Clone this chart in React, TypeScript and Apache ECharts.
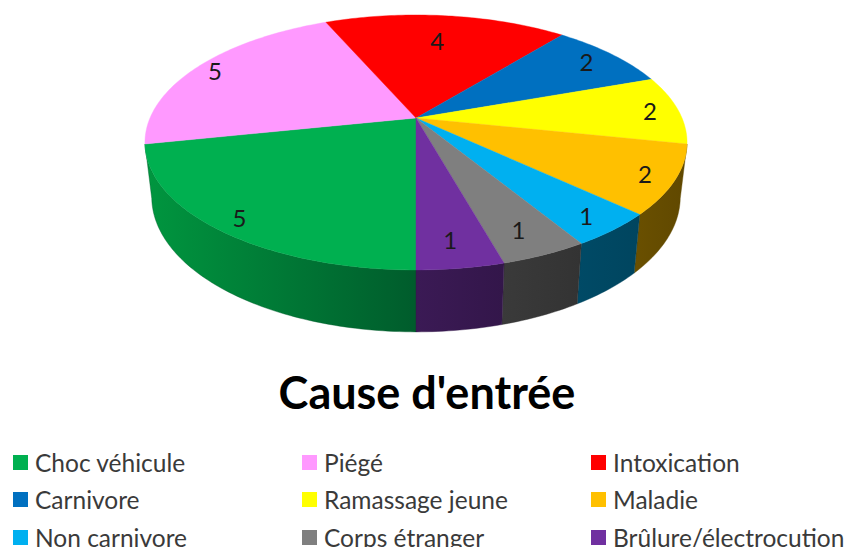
import React, { useEffect, useRef } from "react";
import * as echarts from "echarts";

const categories = ["Choc véhicule", "Piégé", "Intoxication", "Carnivore", "Ramassage jeune", "Maladie", "Non carnivore", "Corps étranger", "Brûlure/électrocution"];
const values = [5, 5, 4, 2, 2, 2, 1, 1, 1];
const topColors = ["#00B050", "#FF99FF", "#FF0000", "#0070C0", "#FFFF00", "#FFC000", "#00B0F0", "#7F7F7F", "#7030A0"];
const wallFrom = ["#00963F", "#993D99", "#990000", "#004373", "#999900", "#6A5000", "#004A66", "#3A3A3A", "#3B1A55"];
const wallTo = ["#005C2C", "#993D99", "#990000", "#004373", "#999900", "#604800", "#00455F", "#333333", "#33164A"];
const labelRadius = [0.9, 0.91, 0.73, 0.87, 0.9, 0.9, 0.89, 0.84, 0.84];
const legendLeft = [13, 302, 591];
const legendTop = [450, 487, 525];

const total = values.reduce((a, b) => a + b, 0);
const CX = 416, R = 266, K = 0.192;
const TOP_Y = 118, TOP_S = 122.8;
const BASE_Y = 171, BASE_S = 130, BASE_X = 0.975;
const FONT = "Lato, 'Open Sans', sans-serif";

// Perspective projection of a point of the disc; the angle runs clockwise from the front.
function project(angle: number, rho: number, y0: number, s: number, xs: number): number[] {
  const u = -Math.sin(angle) * rho;
  const v = -Math.cos(angle) * rho;
  const w = 1 + K * v;
  return [CX + (xs * R * u) / w, y0 - (s * v) / w];
}
const onTop = (a: number, rho = 1) => project(a, rho, TOP_Y, TOP_S, 1);
const onBase = (a: number) => project(a, 1, BASE_Y, BASE_S, BASE_X);

function arc(a0: number, a1: number, fn: (a: number) => number[]) {
  const n = Math.max(2, Math.ceil(((a1 - a0) * 180) / Math.PI));
  const pts: number[][] = [];
  for (let i = 0; i <= n; i++) pts.push(fn(a0 + ((a1 - a0) * i) / n));
  return pts;
}

function makeRender(index: number) {
  const before = values.slice(0, index).reduce((a, b) => a + b, 0);
  return (_params: any, api: any) => {
    const value = api.value(0);
    const a0 = (before / total) * 2 * Math.PI;
    const a1 = ((before + value) / total) * 2 * Math.PI;
    const topArc = arc(a0, a1, (a) => onTop(a));
    const baseArc = arc(a0, a1, onBase);
    const mid = (a0 + a1) / 2;
    const lp = onTop(mid, labelRadius[index]);
    const wallFill = {
      type: "linear", x: 0, y: 0, x2: 1, y2: 0,
      colorStops: [{ offset: 0, color: wallFrom[index] }, { offset: 1, color: wallTo[index] }],
    };
    const children: any[] = [
      {
        type: "polygon", z2: 2, silent: true,
        shape: { points: [[CX, TOP_Y], ...topArc] },
        style: { fill: topColors[index], stroke: topColors[index], lineWidth: 0.4 },
      },
      {
        type: "text", z2: 3, silent: true, x: lp[0] - 2, y: lp[1],
        style: { text: String(value), fill: "#1a1a1a", font: `24px ${FONT}`, align: "center", verticalAlign: "middle" },
      },
    ];
    // Only the slices on the front half of the disc show a side wall.
    if (Math.cos(mid) > 0) {
      children.unshift({
        type: "polygon", z2: 1, silent: true,
        shape: { points: [...topArc, ...baseArc.slice().reverse()] },
        style: { fill: wallFill, stroke: wallTo[index], lineWidth: 0.4 },
      });
    }
    return { type: "group", children };
  };
}

export default function App() {
  const ref = useRef<HTMLDivElement>(null);
  useEffect(() => {
    document.body.style.margin = "0";
    const chart = echarts.init(ref.current!, null, { renderer: "svg" });
    chart.setOption({
      animation: false,
      backgroundColor: "#ffffff",
      title: {
        text: "Cause d'entrée",
        left: 427, top: 364, textAlign: "center",
        textStyle: { fontFamily: FONT, fontWeight: "bold", fontSize: 45, color: "#000000" },
      },
      legend: categories.map((name, i) => ({
        orient: "horizontal",
        left: legendLeft[i % 3],
        top: legendTop[Math.floor(i / 3)],
        padding: 0,
        icon: "rect",
        itemWidth: 15,
        itemHeight: 15,
        itemGap: 0,
        selectedMode: false,
        data: [name],
        textStyle: { fontFamily: FONT, fontSize: 24.5, color: "#3a3a3a", padding: [0, 0, 3, 2], lineHeight: 20 },
      })),
      series: categories.map((name, i) => ({
        type: "custom",
        name,
        coordinateSystem: "none",
        itemStyle: { color: topColors[i] },
        renderItem: makeRender(i),
        data: [[values[i]]],
      })),
    });
    // The title's anchor is adjusted so that the text spans the reference's horizontal extent.
    chart.setOption({ title: { left: 422 } });
    return () => chart.dispose();
  }, []);
  return <div ref={ref} style={{ width: 850, height: 547 }} />;
}
